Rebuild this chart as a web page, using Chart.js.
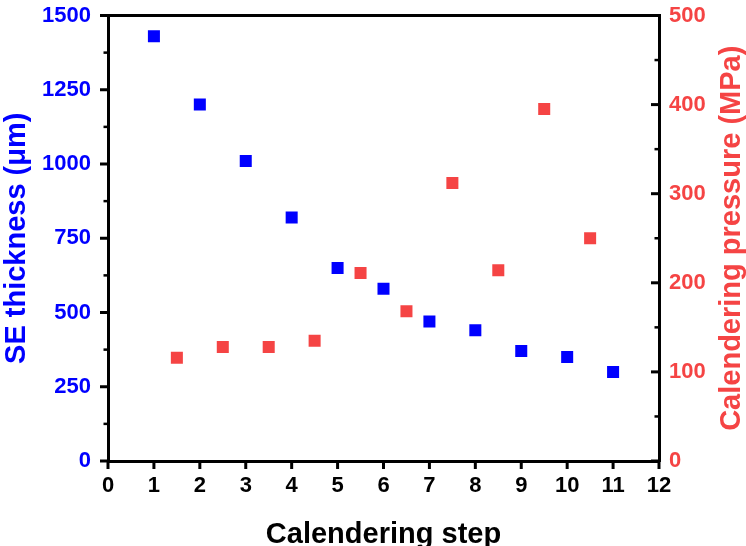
<!DOCTYPE html>
<html>
<head>
<meta charset="utf-8">
<script src="https://cdn.jsdelivr.net/npm/chart.js@4/dist/chart.umd.min.js"></script>
<style>
  html, body { margin: 0; padding: 0; background: #fff; }
  canvas { display: block; }
</style>
</head>
<body>
<canvas id="c" width="746" height="546"></canvas>
<script>
// ---- data ----
const thicknessSteps = [1, 2, 3, 4, 5, 6, 7, 8, 9, 10, 11];
const thickness = [1430, 1200, 1010, 820, 650, 580, 470, 440, 370, 350, 300];
const pressureSteps = [1.5, 2.5, 3.5, 4.5, 5.5, 6.5, 7.5, 8.5, 9.5, 10.5];
const pressure = [116, 128, 128, 135, 211, 168, 312, 214, 395, 250];
const xTickValues = [0, 1, 2, 3, 4, 5, 6, 7, 8, 9, 10, 11, 12];
const leftTickValues = [0, 250, 500, 750, 1000, 1250, 1500];
const rightTickValues = [0, 100, 200, 300, 400, 500];
const xTitle = 'Calendering step';
const leftTitle = 'SE thickness (μm)';
const rightTitle = 'Calendering pressure (MPa)';

const BLUE = '#0000FF';
const RED = 'rgb(245,68,68)';
const FAMILY = '"Liberation Sans", Arial, sans-serif';

function setTicks(values) {
  return function (scale) { scale.ticks = values.map(v => ({ value: v })); };
}
const plainLabel = v => String(v);
function fixSize(w, h) {
  return function (s) {
    if (w !== null) s.width = w;
    if (h !== null) s.height = h;
    s.paddingTop = 0; s.paddingBottom = 0; s.paddingLeft = 0; s.paddingRight = 0;
  };
}

const frameTicks = {
  id: 'frameTicks',
  afterDraw(chart) {
    const ctx = chart.ctx, a = chart.chartArea;
    const xs = chart.scales.x, yl = chart.scales.y, yr = chart.scales.y2;
    ctx.save();
    ctx.strokeStyle = '#000';
    ctx.lineCap = 'butt';
    const line = (x1, y1, x2, y2, w) => {
      ctx.lineWidth = w; ctx.beginPath(); ctx.moveTo(x1, y1); ctx.lineTo(x2, y2); ctx.stroke();
    };
    // top frame line
    line(a.left - 1.5, a.top, a.right + 1.5, a.top, 3);
    // x ticks (outward)
    xTickValues.forEach(v => { const p = xs.getPixelForValue(v); line(p, a.bottom, p, a.bottom + 8, 3); });
    // left ticks (outward) + minor
    leftTickValues.forEach((v, i) => {
      const p = yl.getPixelForValue(v); line(a.left - 8, p, a.left, p, 3);
      if (i < leftTickValues.length - 1) {
        const m = yl.getPixelForValue((v + leftTickValues[i + 1]) / 2);
        line(a.left - 4.5, m, a.left, m, 2.5);
      }
    });
    // right ticks (inward) + minor
    rightTickValues.forEach((v, i) => {
      const p = yr.getPixelForValue(v); line(a.right - 8, p, a.right, p, 3);
      if (i < rightTickValues.length - 1) {
        const m = yr.getPixelForValue((v + rightTickValues[i + 1]) / 2);
        line(a.right - 4.5, m, a.right, m, 2.5);
      }
    });
    // right axis title, reading bottom-to-top
    ctx.translate(732, (a.top + a.bottom) / 2);
    ctx.rotate(-Math.PI / 2);
    ctx.font = 'bold 29px ' + FAMILY;
    ctx.fillStyle = RED;
    ctx.textAlign = 'center';
    ctx.textBaseline = 'middle';
    ctx.fillText(rightTitle, 0, 0);
    ctx.restore();
  }
};

new Chart(document.getElementById('c'), {
  type: 'scatter',
  data: {
    datasets: [
      {
        label: 'SE thickness',
        data: thicknessSteps.map((x, i) => ({ x: x, y: thickness[i] })),
        yAxisID: 'y',
        backgroundColor: BLUE,
        borderColor: BLUE,
        borderWidth: 0,
        pointStyle: 'rect',
        pointRadius: 8.5,
        pointHoverRadius: 8.5
      },
      {
        label: 'Calendering pressure',
        data: pressureSteps.map((x, i) => ({ x: x, y: pressure[i] })),
        yAxisID: 'y2',
        backgroundColor: RED,
        borderColor: RED,
        borderWidth: 0,
        pointStyle: 'rect',
        pointRadius: 8.5,
        pointHoverRadius: 8.5
      }
    ]
  },
  options: {
    responsive: false,
    animation: false,
    events: [],
    layout: { padding: { top: 15.5, left: 0, right: 0, bottom: 0 } },
    plugins: { legend: { display: false }, tooltip: { enabled: false } },
    scales: {
      x: {
        type: 'linear', position: 'bottom', min: 0, max: 12,
        afterBuildTicks: setTicks(xTickValues),
        afterFit: fixSize(null, 85),
        grid: { display: false, drawTicks: false },
        border: { display: true, color: '#000', width: 3 },
        ticks: { color: '#000', padding: 12, callback: plainLabel, font: { family: FAMILY, size: 22, weight: 'bold' } },
        title: { display: true, text: xTitle, color: '#000', padding: { top: 0, bottom: -6 },
                 font: { family: FAMILY, size: 29, weight: 'bold' } }
      },
      y: {
        type: 'linear', position: 'left', min: 0, max: 1500,
        afterBuildTicks: setTicks(leftTickValues),
        afterFit: fixSize(108, null),
        grid: { display: false, drawTicks: false },
        border: { display: true, color: '#000', width: 3 },
        ticks: { color: BLUE, padding: 17, callback: plainLabel, font: { family: FAMILY, size: 22, weight: 'bold' } },
        title: { display: true, text: leftTitle, color: BLUE, padding: { top: 0, bottom: 0 },
                 font: { family: FAMILY, size: 29, weight: 'bold' } }
      },
      y2: {
        type: 'linear', position: 'right', min: 0, max: 500,
        afterBuildTicks: setTicks(rightTickValues),
        afterFit: fixSize(87, null),
        grid: { display: false, drawTicks: false },
        border: { display: true, color: '#000', width: 3 },
        ticks: { color: RED, padding: 10, callback: plainLabel, font: { family: FAMILY, size: 22, weight: 'bold' } }
      }
    }
  },
  plugins: [frameTicks]
});
</script>
</body>
</html>
